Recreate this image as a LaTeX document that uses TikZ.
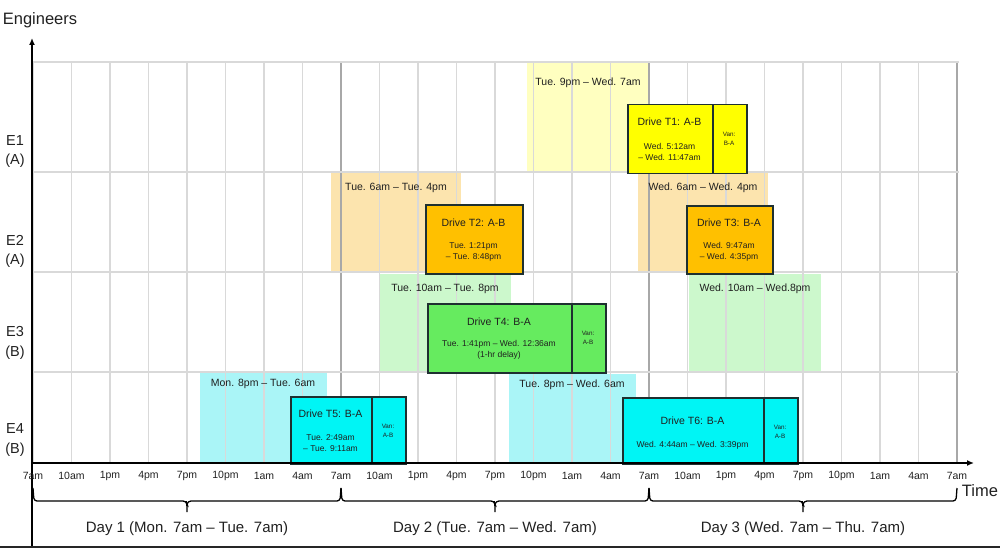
\documentclass[tikz,border=0pt]{standalone}
\usepackage{fontspec}
\setmainfont{Liberation Sans}
\usetikzlibrary{arrows.meta}
\definecolor{lyel}{HTML}{FFFFC0}
\definecolor{lora}{HTML}{FCE4AE}
\definecolor{lgrn}{HTML}{CCF8CC}
\definecolor{lcya}{HTML}{AAF5F7}
\definecolor{dyel}{HTML}{FFFF00}
\definecolor{dora}{HTML}{FFC000}
\definecolor{dgrn}{HTML}{66EB5F}
\definecolor{dcya}{HTML}{00F5F5}
\definecolor{bdr}{HTML}{1E3030}
\definecolor{gridc}{HTML}{D9D9D9}
\definecolor{dayc}{HTML}{A8A8A8}
\definecolor{txt}{HTML}{202020}
\begin{document}
\begin{tikzpicture}[x=1pt,y=-1pt,
  win/.style={draw=none, inner sep=0pt, anchor=north west},
  wlab/.style={font=\fontsize{10.5}{12}\selectfont, text=txt, inner sep=0pt},
  drv/.style={draw=bdr, line width=1.5pt, inner sep=0pt, anchor=north west},
  ttl/.style={font=\fontsize{10.5}{12}\selectfont, text=txt, inner sep=0pt},
  tm/.style={font=\fontsize{8.5}{11}\selectfont, text=txt, align=center, inner sep=0pt},
  vantxt/.style={font=\fontsize{6.3}{9}\selectfont, text=txt, align=center, inner sep=0pt},
  tick/.style={font=\fontsize{10.5}{12}\selectfont, text=txt, inner sep=0pt},
  rowlab/.style={font=\fontsize{14.5}{19.5}\selectfont, text=txt, align=center, inner sep=0pt},
  daylab/.style={font=\fontsize{15}{18}\selectfont, text=txt, inner sep=0pt},
  gridln/.style={draw=gridc, line width=1.4pt},
  dayln/.style={draw=dayc, line width=1.4pt},
  axis/.style={draw=black, line width=1.8pt, -{Latex[length=7pt,width=6pt]}},
  bracestyle/.style={draw=black, line width=1.3pt, rounded corners=3pt}
]
\useasboundingbox (0,0) rectangle (1000,548);

% availability windows
\node[win, fill=lyel, minimum width=123pt, minimum height=110pt] (w1) at (527,62) {};
\node[win, fill=lora, minimum width=130pt, minimum height=100pt] (w2) at (331,172) {};
\node[win, fill=lora, minimum width=130pt, minimum height=100pt] (w3) at (638,172) {};
\node[win, fill=lgrn, minimum width=131pt, minimum height=98pt] (w4) at (380,274) {};
\node[win, fill=lgrn, minimum width=132pt, minimum height=98pt] (w5) at (689,274) {};
\node[win, fill=lcya, minimum width=127pt, minimum height=91pt] (w6) at (200,372) {};
\node[win, fill=lcya, minimum width=127pt, minimum height=89pt] (w7) at (509,374) {};

% grid
\foreach \k in {0,...,24} {
  \draw[gridln] ({33+38.5*\k},62) -- ({33+38.5*\k},463);
}
\foreach \k in {8,16,24} {
  \draw[dayln] ({33+38.5*\k},62) -- ({33+38.5*\k},463);
}
\foreach \yy in {62,172,272,372} {
  \draw[gridln] (33,\yy) -- (959,\yy);
}

% window labels
\node[wlab] (l1) at (588,83) {Tue. 9pm – Wed. 7am};
\node[wlab] (l2) at (396,188) {Tue. 6am – Tue. 4pm};
\node[wlab] (l3) at (703,188) {Wed. 6am – Wed. 4pm};
\node[wlab] (l4) at (445,289) {Tue. 10am – Tue. 8pm};
\node[wlab] (l5) at (755,289) {Wed. 10am – Wed.8pm};
\node[wlab] (l6) at (263,384) {Mon. 8pm – Tue. 6am};
\node[wlab] (l7) at (572,385) {Tue. 8pm – Wed. 6am};

% drive boxes
% T1
\node[drv, fill=dyel, minimum width=85pt, minimum height=69pt] (t1) at (627,104) {};
\node[drv, fill=dyel, minimum width=34pt, minimum height=69pt] (t1v) at (712,104) {};
\node[ttl] (t1a) at (669.5,122) {Drive T1: A-B};
\node[tm] (t1b) at (669.5,152) {Wed. 5:12am\\– Wed. 11:47am};
\node[vantxt] (t1c) at (729,138.5) {Van:\\B-A};
% T2
\node[drv, fill=dora, minimum width=97pt, minimum height=69pt] (t2) at (425,204) {};
\node[ttl] (t2a) at (473.5,223) {Drive T2: A-B};
\node[tm] (t2b) at (473.5,251.5) {Tue. 1:21pm\\– Tue. 8:48pm};
% T3
\node[drv, fill=dora, minimum width=86pt, minimum height=68pt] (t3) at (686,205) {};
\node[ttl] (t3a) at (729,223) {Drive T3: B-A};
\node[tm] (t3b) at (729,252) {Wed. 9:47am\\– Wed. 4:35pm};
% T4
\node[drv, fill=dgrn, minimum width=144pt, minimum height=69pt] (t4) at (427,303) {};
\node[drv, fill=dgrn, minimum width=34pt, minimum height=69pt] (t4v) at (571,303) {};
\node[ttl] (t4a) at (499,322) {Drive T4: B-A};
\node[tm] (t4b) at (499,350) {Tue. 1:41pm – Wed. 12:36am\\(1-hr delay)};
\node[vantxt] (t4c) at (588,337.5) {Van:\\A-B};
% T5
\node[drv, fill=dcya, minimum width=81pt, minimum height=67pt] (t5) at (290,396) {};
\node[drv, fill=dcya, minimum width=34pt, minimum height=67pt] (t5v) at (371,396) {};
\node[ttl] (t5a) at (330.5,414) {Drive T5: B-A};
\node[tm] (t5b) at (330.5,443.5) {Tue. 2:49am\\– Tue. 9:11am};
\node[vantxt] (t5c) at (388,430.5) {Van:\\A-B};
% T6
\node[drv, fill=dcya, minimum width=141pt, minimum height=66pt] (t6) at (622,397) {};
\node[drv, fill=dcya, minimum width=34pt, minimum height=66pt] (t6v) at (763,397) {};
\node[ttl] (t6a) at (692.5,421) {Drive T6: B-A};
\node[tm] (t6b) at (692.5,445) {Wed. 4:44am – Wed. 3:39pm};
\node[vantxt] (t6c) at (780,431.5) {Van:\\A-B};

% axes
\coordinate (yb) at (32,548);
\coordinate (yt) at (32,38);
\coordinate (xl) at (32,463);
\coordinate (xr) at (974,463);
\draw[axis] (yb) -- (yt);
\draw[axis] (xl) -- (xr);
\coordinate (bl) at (0,547);
\coordinate (br) at (1000,547);
\draw[draw=black!85, line width=1.4pt] (bl) -- (br);

\node[font=\fontsize{16.5}{18}\selectfont, text=txt, inner sep=0pt] (eng) at (40,20) {Engineers};
\node[font=\fontsize{16.5}{18}\selectfont, text=txt, inner sep=0pt] (time) at (980,491) {Time};

\node[rowlab] (r1) at (15,151.5) {E1\\(A)};
\node[rowlab] (r2) at (15,251.5) {E2\\(A)};
\node[rowlab] (r3) at (15,343) {E3\\(B)};
\node[rowlab] (r4) at (15,440) {E4\\(B)};

% tick labels
\foreach \lab [count=\i from 0] in {7am,10am,1pm,4pm,7pm,10pm,1am,4am,7am,10am,1pm,4pm,7pm,10pm,1am,4am,7am,10am,1pm,4pm,7pm,10pm,1am,4am,7am} {
  \node[tick] (tk\i) at ({33+38.5*\i},476) {\lab};
}

% braces (bracket-like)
\foreach \a/\b/\m in {33/341/187, 341/649/495, 649/957/803} {
  \draw[bracestyle] (\a,488) -- (\a+1,501) -- (\m-1,501) -- (\m,504) -- (\m,512);
  \draw[bracestyle] (\b,488) -- (\b-1,501) -- (\m+1,501) -- (\m,504);
}
\node[daylab] (day1) at (187,529) {Day 1 (Mon. 7am – Tue. 7am)};
\node[daylab] (day2) at (495,529) {Day 2 (Tue. 7am – Wed. 7am)};
\node[daylab] (day3) at (803,529) {Day 3 (Wed. 7am – Thu. 7am)};
\end{tikzpicture}
\end{document}
